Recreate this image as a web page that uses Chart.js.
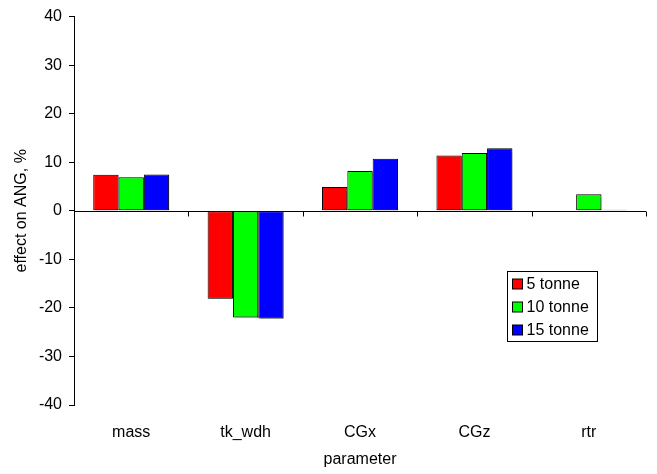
<!DOCTYPE html>
<html>
<head>
<meta charset="utf-8">
<style>
  html, body { margin: 0; padding: 0; background: #fff; }
  #wrap { width: 657px; height: 474px; position: relative; }
</style>
<script src="https://cdn.jsdelivr.net/npm/chart.js@4/dist/chart.umd.min.js"></script>
</head>
<body>
<div id="wrap"><canvas id="c" width="657" height="474"></canvas></div>
<script>
// Parameters varied in the sensitivity study
const categories = ['mass', 'tk_wdh', 'CGx', 'CGz', 'rtr'];

// Effect on ANG (%) for each vehicle mass
const tonne5  = [7.4, -18.1, 4.9, 11.4, 0.0];
const tonne10 = [6.9, -22.0, 8.2, 11.9, 3.4];
const tonne15 = [7.5, -22.2, 10.7, 12.9, 0.2];

const seriesNames = ['5 tonne', '10 tonne', '15 tonne'];
const yTicks = [-40, -30, -20, -10, 0, 10, 20, 30, 40];

const FONT = '"Liberation Sans", Arial, sans-serif';

// Soft drop shadow under the bars
const barShadow = {
  id: 'barShadow',
  beforeDatasetsDraw(chart) {
    const ctx = chart.ctx;
    ctx.save();
    ctx.shadowColor = 'rgba(0,0,0,0.35)';
    ctx.shadowOffsetX = 2;
    ctx.shadowOffsetY = 1;
    ctx.shadowBlur = 1;
  },
  afterDatasetsDraw(chart) {
    chart.ctx.restore();
  }
};

// Zero line across the plot with tick marks at the category boundaries
const zeroAxis = {
  id: 'zeroAxis',
  afterDatasetsDraw(chart) {
    const { ctx, chartArea, scales: { y } } = chart;
    const y0 = Math.round(y.getPixelForValue(0)) + 0.5;
    ctx.save();
    ctx.strokeStyle = '#000';
    ctx.lineWidth = 1;
    ctx.beginPath();
    ctx.moveTo(chartArea.left, y0);
    ctx.lineTo(chartArea.right, y0);
    const n = categories.length;
    const step = (chartArea.right - chartArea.left) / n;
    for (let i = 1; i <= n; i++) {
      const bx = Math.round(chartArea.left + step * i) + 0.5;
      ctx.moveTo(bx, y0);
      ctx.lineTo(bx, y0 + 5);
    }
    ctx.stroke();
    ctx.restore();
  }
};

// Boxed legend inside the plot area
const boxLegend = {
  id: 'boxLegend',
  afterDraw(chart) {
    const { ctx, chartArea } = chart;
    const w = chartArea.right - chartArea.left;
    const h = chartArea.bottom - chartArea.top;
    const left = Math.round(chartArea.left + w * 0.757) + 0.5;
    const top = Math.round(chartArea.top + h * 0.656) + 0.5;
    const bw = 90, bh = 70, row = 23;
    ctx.save();
    ctx.fillStyle = '#fff';
    ctx.fillRect(left, top, bw, bh);
    ctx.strokeStyle = '#000';
    ctx.lineWidth = 1;
    ctx.strokeRect(left, top, bw, bh);
    ctx.font = '16px ' + FONT;
    ctx.textBaseline = 'middle';
    chart.data.datasets.forEach((ds, i) => {
      const cy = top + 12.5 + row * i;
      ctx.fillStyle = ds.backgroundColor;
      ctx.fillRect(left + 5, Math.round(cy - 5), 10, 10);
      ctx.strokeRect(left + 5, Math.round(cy - 5), 10, 10);
      ctx.fillStyle = '#000';
      ctx.fillText(ds.label, left + 19, cy + 1);
    });
    ctx.restore();
  }
};

new Chart(document.getElementById('c'), {
  type: 'bar',
  data: {
    labels: categories,
    datasets: [
      { label: seriesNames[0], data: tonne5,  backgroundColor: '#ff0000' },
      { label: seriesNames[1], data: tonne10, backgroundColor: '#00ff00' },
      { label: seriesNames[2], data: tonne15, backgroundColor: '#0000ff' }
    ].map(d => Object.assign(d, {
      borderColor: '#000', borderWidth: 1, borderSkipped: false,
      categoryPercentage: 0.664, barPercentage: 1.0
    }))
  },
  options: {
    responsive: false,
    animation: false,
    devicePixelRatio: 1,
    layout: { padding: { left: 0, right: 11, top: 15, bottom: 0 } },
    plugins: { legend: { display: false }, tooltip: { enabled: false } },
    scales: {
      x: {
        grid: { display: false },
        border: { display: false },
        ticks: { color: '#000', font: { family: FONT, size: 16 }, padding: 10, maxRotation: 0 },
        title: { display: true, text: 'parameter', color: '#000',
                 font: { family: FONT, size: 16 }, padding: { top: 0, bottom: 5 } },
        afterFit(s) { s.height = 69; }
      },
      y: {
        min: -40, max: 40,
        afterBuildTicks(s) { s.ticks = yTicks.map(v => ({ value: v })); },
        grid: { drawOnChartArea: false, tickLength: 5, color: '#000' },
        border: { display: true, color: '#000' },
        ticks: { color: '#000', font: { family: FONT, size: 16 }, padding: 7 },
        title: { display: true, text: 'effect on ANG, %', color: '#000',
                 font: { family: FONT, size: 16 }, padding: { top: 12, bottom: 0 } },
        afterFit(s) { s.width = 74; }
      }
    }
  },
  plugins: [barShadow, zeroAxis, boxLegend]
});
</script>
</body>
</html>
